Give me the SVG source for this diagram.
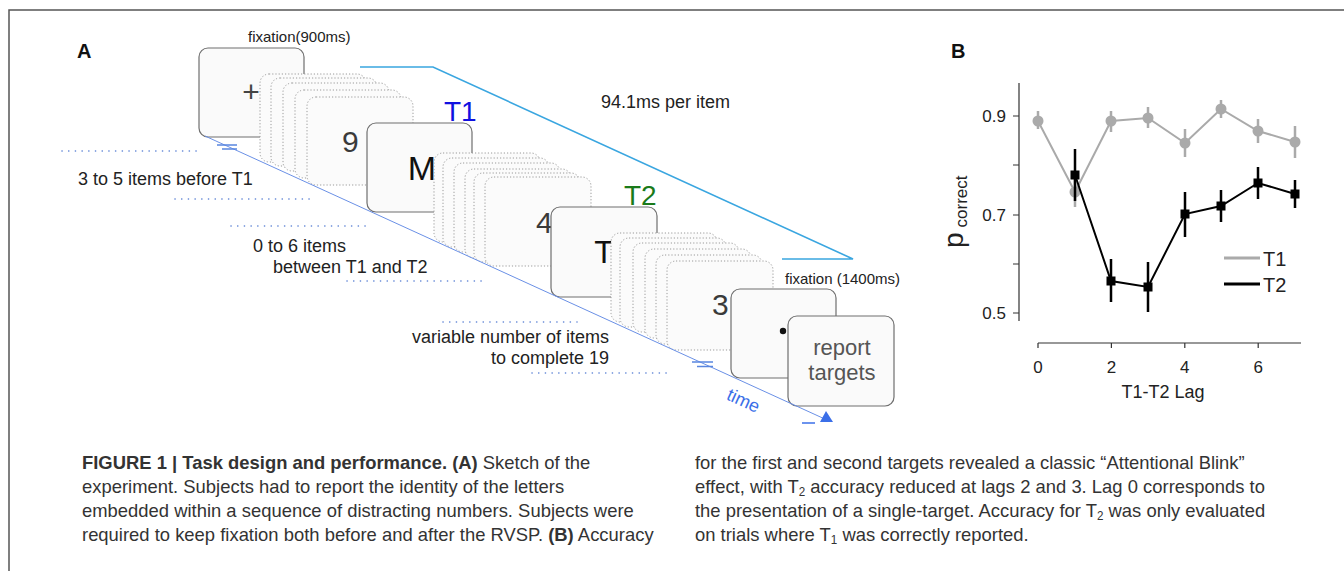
<svg xmlns="http://www.w3.org/2000/svg" width="1344" height="571" viewBox="0 0 1344 571">
<style>
text{font-family:"Liberation Sans",Arial,sans-serif}
.card{fill:#fafafa;stroke:#6f6f6f;stroke-width:1.2}
.dcard{fill:#fbfbfb;stroke:#9a9a9a;stroke-width:1;stroke-dasharray:1.2 2}
.guide{stroke:#5a80d4;stroke-width:1.6;stroke-dasharray:0.1 6.6;stroke-linecap:round;fill:none}
.lbl{font-size:18px;fill:#222}
.big{font-size:30px;fill:#3a3a3a}
.cap{font-size:19px;fill:#333}
.ax{stroke:#333;stroke-width:1.2;fill:none}
.tk{font-size:17px;fill:#222}
</style>
<rect width="1344" height="571" fill="#fff"/>
<path d="M9,571 V10 H1344" fill="none" stroke="#555" stroke-width="1.5"/>

<g id="panelA">
<text x="77" y="58" style="font-size:20px;font-weight:bold" fill="#111">A</text>
<text x="248" y="42" style="font-size:15px" fill="#222">fixation(900ms)</text>

<g id="fix1"><rect class="card" x="199" y="48" width="105" height="89" rx="9"/><text x="251" y="102" text-anchor="middle" style="font-size:30px" fill="#444">+</text></g>
<g id="stack1">
<rect class="dcard" x="260" y="74" width="106" height="88" rx="9"/>
<rect class="dcard" x="271" y="78" width="106" height="88" rx="9"/>
<rect class="dcard" x="283" y="83" width="106" height="88" rx="9"/>
<rect class="dcard" x="295" y="90" width="106" height="88" rx="9"/>
<rect class="dcard" x="307" y="97" width="106" height="88" rx="9"/>
<text class="big" x="342" y="152">9</text>
</g>
<g id="cardM"><rect class="card" x="367" y="123" width="105" height="89" rx="9"/><text x="422" y="180" text-anchor="middle" style="font-size:34px" fill="#111">M</text></g>
<text x="444" y="121" style="font-size:28px" fill="#1010e0">T1</text>
<g id="stack2">
<rect class="dcard" x="434" y="153" width="106" height="89" rx="9"/>
<rect class="dcard" x="443" y="158" width="106" height="89" rx="9"/>
<rect class="dcard" x="454" y="163" width="106" height="89" rx="9"/>
<rect class="dcard" x="465" y="169" width="106" height="89" rx="9"/>
<rect class="dcard" x="474" y="173" width="106" height="89" rx="9"/>
<rect class="dcard" x="485" y="177" width="106" height="89" rx="9"/>
<text class="big" x="536" y="233">4</text>
</g>
<g id="cardT"><rect class="card" x="551" y="207" width="106" height="90" rx="9"/><text x="604" y="263" text-anchor="middle" style="font-size:32px" fill="#111">T</text></g>
<text x="624" y="205" style="font-size:28px" fill="#1a7a1a">T2</text>
<g id="stack3">
<rect class="dcard" x="611" y="233" width="106" height="89" rx="9"/>
<rect class="dcard" x="620" y="238" width="106" height="89" rx="9"/>
<rect class="dcard" x="633" y="243" width="106" height="89" rx="9"/>
<rect class="dcard" x="645" y="249" width="106" height="89" rx="9"/>
<rect class="dcard" x="656" y="255" width="106" height="89" rx="9"/>
<rect class="dcard" x="667" y="261" width="106" height="89" rx="9"/>
<text class="big" x="712" y="315">3</text>
</g>
<g id="fix2"><rect class="card" x="731" y="289" width="105" height="89" rx="9"/><circle cx="783" cy="331" r="3.2" fill="#111"/></g>
<g id="report"><rect class="card" x="788" y="316" width="106" height="90" rx="9"/>
<text x="842" y="355" text-anchor="middle" style="font-size:22px" fill="#555">report</text>
<text x="842" y="380" text-anchor="middle" style="font-size:22px" fill="#555">targets</text></g>
<text x="785" y="284" style="font-size:15px" fill="#222">fixation (1400ms)</text>

<text x="601" y="108" style="font-size:18px" fill="#222">94.1ms per item</text>

<g id="connectors">
<path d="M360,67 L433,67 L853,259 L782,259" fill="none" stroke="#3aa6e0" stroke-width="1.6"/>
<path d="M205,136 L827,420" fill="none" stroke="#6a90e6" stroke-width="1"/>
<polygon points="820,422 833,422 826,411" fill="#3b6fe8"/>
<path d="M802,423 H815" stroke="#3b6fe8" stroke-width="1.5"/>
<path d="M217,145 H237 M222,149 H237" stroke="#5a86e0" stroke-width="1.3"/>
<path d="M692,362 H713 M697,366.5 H713" stroke="#5a86e0" stroke-width="1.3"/>
<path class="guide" d="M62,151 H197 M175,199 H310 M231,226 H367 M347,281 H483 M443,322 H577 M532,373 H667"/>
</g>
<text transform="translate(741,406) rotate(24.6)" text-anchor="middle" style="font-size:18px" fill="#3b6fe8">time</text>

<text class="lbl" x="78" y="185">3 to 5 items before T1</text>
<text class="lbl" x="253" y="252">0 to 6 items</text>
<text class="lbl" x="273" y="273">between T1 and T2</text>
<text class="lbl" x="609" y="343" text-anchor="end">variable number of items</text>
<text class="lbl" x="609" y="364" text-anchor="end">to complete 19</text>
</g>

<g id="panelB">
<text x="951" y="58" style="font-size:20px;font-weight:bold" fill="#111">B</text>
<path class="ax" d="M1019,83 V321 M1013,116 H1019 M1013,165 H1019 M1013,215 H1019 M1013,264 H1019 M1013,313 H1019"/>
<path class="ax" d="M1038,343 H1301 M1038,343 V348 M1111.4,343 V348 M1184.8,343 V348 M1258.2,343 V348"/>
<text class="tk" x="1006" y="122" text-anchor="end">0.9</text>
<text class="tk" x="1006" y="221" text-anchor="end">0.7</text>
<text class="tk" x="1006" y="319" text-anchor="end">0.5</text>
<text class="tk" x="1038" y="373" text-anchor="middle">0</text>
<text class="tk" x="1111.4" y="373" text-anchor="middle">2</text>
<text class="tk" x="1184.8" y="373" text-anchor="middle">4</text>
<text class="tk" x="1258.2" y="373" text-anchor="middle">6</text>
<text x="1163" y="398" text-anchor="middle" style="font-size:18px" fill="#222">T1-T2 Lag</text>
<text transform="translate(963,248) rotate(-90)" style="font-size:28px" fill="#222">p<tspan dx="5" dy="4" style="font-size:17px">correct</tspan></text>

<g id="seriesT1">
<polyline points="1038,121 1075,192 1111,121 1148,118 1185,143 1221,109 1258,131 1295,142" fill="none" stroke="#aaa" stroke-width="2"/>
<path d="M1038,111V129 M1075,178V207 M1111,111V132 M1148,107V128 M1185,129V157 M1221,100V118 M1258,119V143 M1295,126V158" stroke="#aaa" stroke-width="2.5"/>
<g fill="#aaa"><circle cx="1038" cy="121" r="5.5"/><circle cx="1075" cy="192" r="5.5"/><circle cx="1111" cy="121" r="5.5"/><circle cx="1148" cy="118" r="5.5"/><circle cx="1185" cy="143" r="5.5"/><circle cx="1221" cy="109" r="5.5"/><circle cx="1258" cy="131" r="5.5"/><circle cx="1295" cy="142" r="5.5"/></g>
</g>
<g id="seriesT2">
<polyline points="1075,175 1111,281 1148,287 1185,214 1221,206 1258,183 1295,194" fill="none" stroke="#000" stroke-width="2"/>
<path d="M1075,149V201 M1111,259V302 M1148,262V312 M1185,192V237 M1221,190V222 M1258,167V199 M1295,180V208" stroke="#000" stroke-width="2.5"/>
<g fill="#000"><rect x="1070.5" y="170.5" width="9" height="9"/><rect x="1106.5" y="276.5" width="9" height="9"/><rect x="1143.5" y="282.5" width="9" height="9"/><rect x="1180.5" y="209.5" width="9" height="9"/><rect x="1216.5" y="201.5" width="9" height="9"/><rect x="1253.5" y="178.5" width="9" height="9"/><rect x="1290.5" y="189.5" width="9" height="9"/></g>
</g>
<g id="legend">
<path d="M1224,258 H1260" stroke="#aaa" stroke-width="3"/>
<path d="M1224,284 H1260" stroke="#000" stroke-width="3"/>
<text x="1263" y="266" style="font-size:20px" fill="#222">T1</text>
<text x="1263" y="292" style="font-size:20px" fill="#222">T2</text>
</g>
</g>

<g id="caption">
<g transform="translate(82,0) scale(0.97,1)">
<text x="0" y="469" class="cap"><tspan font-weight="bold">FIGURE 1 | Task design and performance. (A)</tspan> Sketch of the</text>
<text x="0" y="493" class="cap">experiment. Subjects had to report the identity of the letters</text>
<text x="0" y="517" class="cap">embedded within a sequence of distracting numbers. Subjects were</text>
<text x="0" y="541" class="cap">required to keep fixation both before and after the RVSP. <tspan font-weight="bold">(B)</tspan> Accuracy</text>
</g>
<g transform="translate(695,0) scale(0.97,1)">
<text x="0" y="469" class="cap">for the first and second targets revealed a classic “Attentional Blink”</text>
<text x="0" y="493" class="cap">effect, with T<tspan font-size="12" dy="3">2</tspan><tspan dy="-3"> accuracy reduced at lags 2 and 3. Lag 0 corresponds to</tspan></text>
<text x="0" y="517" class="cap">the presentation of a single-target. Accuracy for T<tspan font-size="12" dy="3">2</tspan><tspan dy="-3"> was only evaluated</tspan></text>
<text x="0" y="541" class="cap">on trials where T<tspan font-size="12" dy="3">1</tspan><tspan dy="-3"> was correctly reported.</tspan></text>
</g>
</g>
</svg>
